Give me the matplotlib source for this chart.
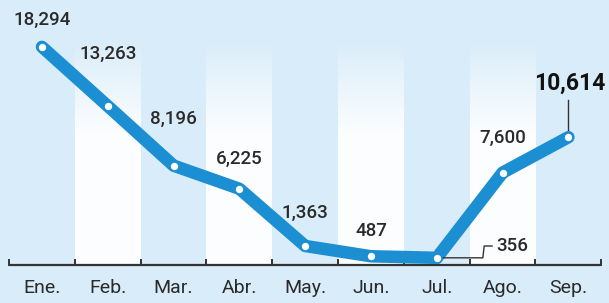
import numpy as np
import matplotlib
matplotlib.use("Agg")
import matplotlib.pyplot as plt

# Data
months = ["Ene.", "Feb.", "Mar.", "Abr.", "May.", "Jun.", "Jul.", "Ago.", "Sep."]
values = [18294, 13263, 8196, 6225, 1363, 487, 356, 7600, 10614]
labels = ["18,294", "13,263", "8,196", "6,225", "1,363", "487", "356", "7,600", "10,614"]

# layout: label offsets above each point (pixels)
label_dy = [27, 52, 47, 30, 33, 25, None, 35, None]

bg = np.array([0.85, 0.925, 0.975])
blue = "#1b8fd2"
ink = "#2a2a2a"

plt.rcParams['font.family'] = ['Roboto', 'DejaVu Sans']

fig = plt.figure(figsize=(6.09, 3.03), dpi=100)
ax = fig.add_axes([0, 0, 1, 1])
ax.set_facecolor(bg)

n = len(months)
x = np.arange(n)
ymin, ymax = -3486, 22279
ax.set_xlim(-0.638, 8.617)
ax.set_ylim(ymin, ymax)

# white bands, fading out towards the top
grad = np.linspace(0, 1, 256)
fade = np.clip((grad - 0.5) / 0.35, 0, 1)  # 0 at bottom -> 1 at top
img = np.zeros((256, 2, 4))
img[..., :3] = 1.0
img[..., 3] = 0.92 * (1 - fade)[:, None]
for i in range(1, n, 2):
    ax.imshow(img, extent=(i - 0.5, i + 0.5, -255, ymax), origin="lower",
              aspect="auto", zorder=0.5)

# axis line and ticks
ax.plot([-0.5, n - 0.5], [-255, -255], color="#333333", lw=1.6, zorder=3,
        solid_capstyle="butt")
for t in np.arange(-0.5, n, 1.0):
    ax.plot([t, t], [-255, 200], color="#333333", lw=1.4, zorder=3)

# main line
ax.plot(x, values, color=blue, lw=9, solid_joinstyle="round",
        solid_capstyle="round", zorder=4)
ax.plot(x, values, "o", ms=6.5, mfc="white", mec=blue, mew=1.2, zorder=5)

for i, m in enumerate(months):
    ax.text(i, -2211, m, ha="center", va="center", fontsize=14, color=ink)

for i, (v, lab, dy) in enumerate(zip(values, labels, label_dy)):
    if dy is None:
        continue
    ax.annotate(lab, (i, v), xytext=(0, dy), textcoords="offset pixels",
                ha="center", va="center", fontsize=13.5, fontweight="medium",
                color=ink, zorder=6)

# 356 with leader line
j = 6
ax.plot([j, j + 0.7, j + 0.72, j + 0.84], [values[j], values[j], 1360, 1360],
        color="#333333", lw=1.0, zorder=4.5)
ax.text(j + 0.9, 1360, labels[j], ha="left", va="center", fontsize=13.5,
        fontweight="medium", color=ink, zorder=6)

# highlighted last value
k = 8
ax.plot([k, k], [values[k], 13776], color="#333333", lw=1.0, zorder=3.5)
ax.text(k + 0.02, 15221, labels[k], ha="center", va="center", fontsize=16.5,
        fontweight="bold", color="#111111", zorder=6)

ax.axis("off")
fig.savefig("out.png", dpi=100, facecolor=bg)
